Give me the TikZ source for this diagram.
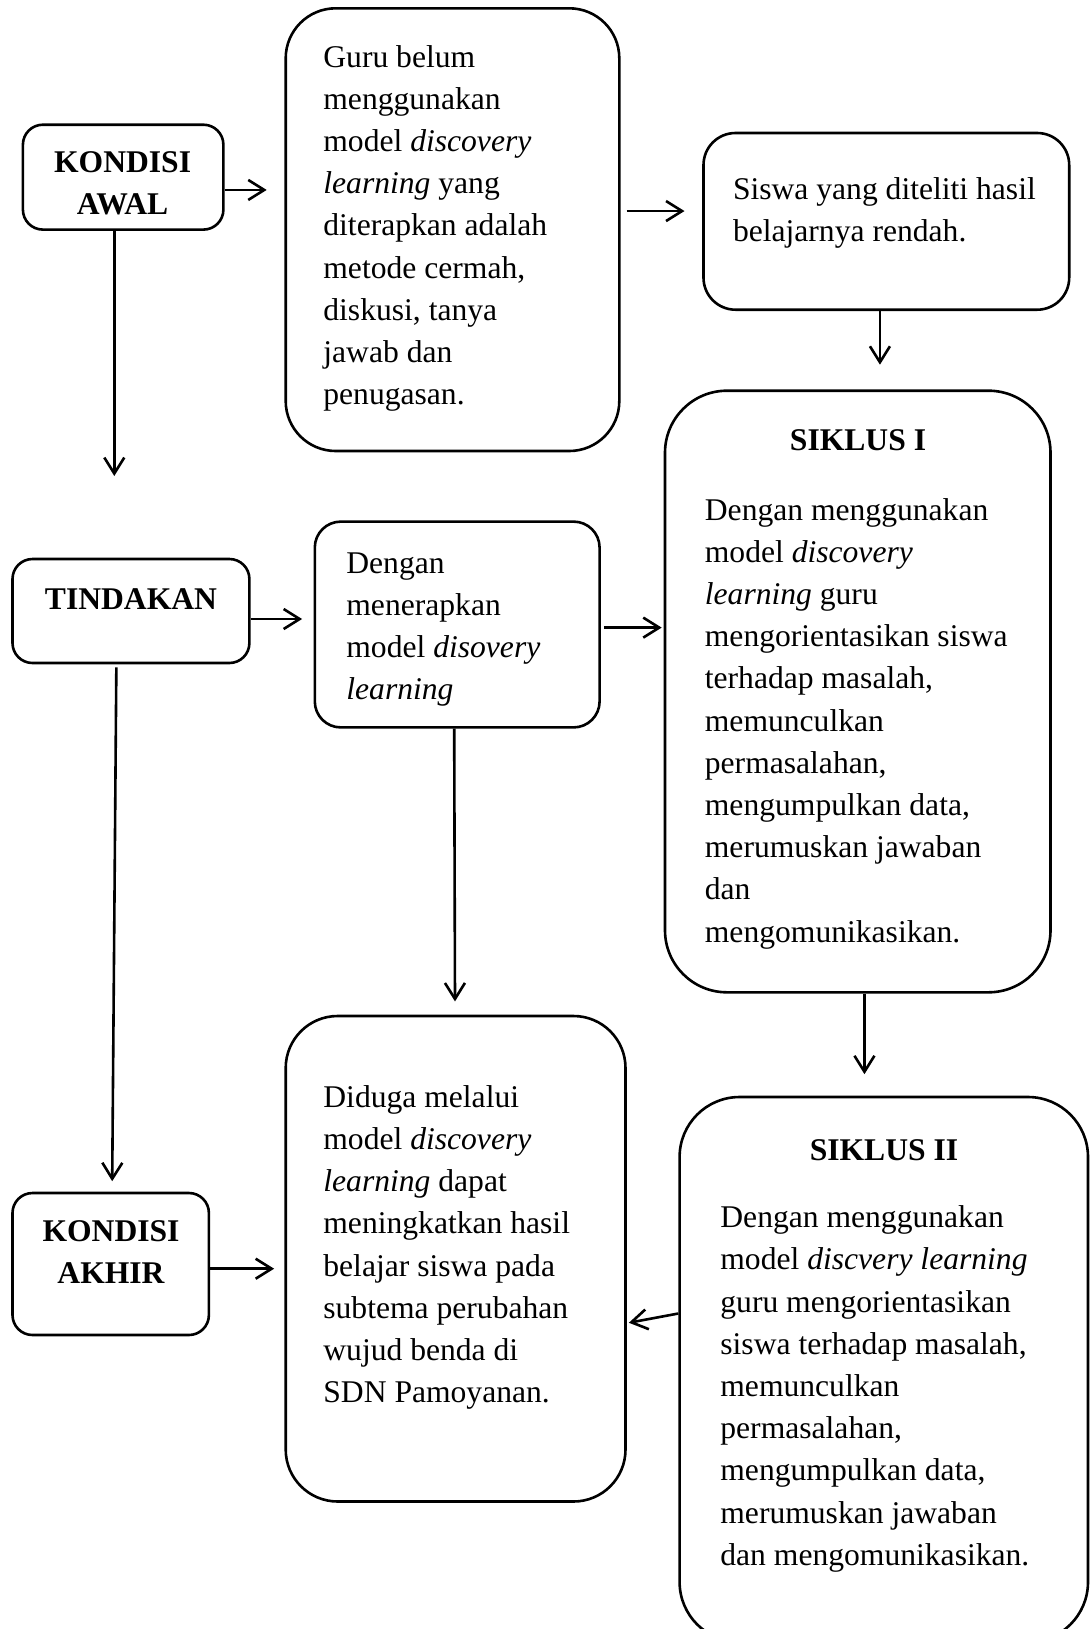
\documentclass[tikz,border=0pt]{standalone}
\usepackage{fontspec}
\setmainfont{Liberation Serif}
\usetikzlibrary{arrows.meta,calc,fit}
\begin{document}
\begin{tikzpicture}[x=0.5pt,y=-0.5pt,
  box/.style={draw, line width=1.3pt, inner sep=0pt, rounded corners=#1},
  box/.default=10pt,
  txt/.style={font=\fontsize{15.8pt}{21.1pt}\selectfont, align=left, inner sep=0pt, anchor=north west},
  ttl/.style={font=\fontsize{15.8pt}{21.1pt}\selectfont\bfseries, align=center, inner sep=0pt, anchor=north},
  arr/.style={draw, line width=1.3pt, -{Straight Barb[length=8pt,width=10pt]}}]
\useasboundingbox (0,0) rectangle (1090,1629);
% boxes
\node[box=10pt, fit={(22.9,124.7) (223.4,229.6)}] (kawal) {};
\node[box=25pt, fit={(285.7,8.3) (619.3,451)}] (guru) {};
\node[box=16pt, fit={(703.5,133) (1069.2,309.7)}] (siswa) {};
\node[box=31pt, fit={(665,390.7) (1050.5,992.3)}] (s1) {};
\node[box=10pt, fit={(12.5,559) (249.4,663)}] (tind) {};
\node[box=13pt, fit={(314.8,521.6) (599.6,727.4)}] (deng) {};
\node[box=26pt, fit={(285.7,1016) (625.5,1501.5)}] (diduga) {};
\node[box=10pt, fit={(12.5,1193) (208.9,1335)}] (kakhir) {};
\node[box=30pt, fit={(679.6,1097) (1088,1642)}] (s2) {};
% texts
\node[ttl] (kawal-t) at (122.6,142.1) {\strut KONDISI\\AWAL};
\node[ttl] (tind-t) at (131,579.5) {\strut TINDAKAN};
\node[ttl] (kakhir-t) at (111,1211.3) {\strut KONDISI\\AKHIR};
\node[txt] (guru-t) at (323,37.1) {\strut Guru belum\\menggunakan\\model \textit{discovery}\\\textit{learning} yang\\diterapkan adalah\\metode cermah,\\diskusi, tanya\\jawab dan\\penugasan.};
\node[txt] (siswa-t) at (732.6,169.1) {\strut Siswa yang diteliti hasil\\belajarnya rendah.};
\node[ttl] (s1-title) at (858,420.5) {\strut SIKLUS I};
\node[txt] (s1-t) at (704.5,490.2) {\strut Dengan menggunakan\\model \textit{discovery}\\\textit{learning} guru\\mengorientasikan siswa\\terhadap masalah,\\memunculkan\\permasalahan,\\mengumpulkan data,\\merumuskan jawaban\\dan\\mengomunikasikan.};
\node[txt] (deng-t) at (346,543.2) {\strut Dengan\\menerapkan\\model \textit{disovery}\\\textit{learning}};
\node[txt] (diduga-t) at (323,1077.3) {\strut Diduga melalui\\model \textit{discovery}\\\textit{learning} dapat\\meningkatkan hasil\\belajar siswa pada\\subtema perubahan\\wujud benda di\\SDN Pamoyanan.};
\node[ttl] (s2-title) at (884,1130.2) {\strut SIKLUS II};
\node[txt] (s2-t) at (720,1197.8) {\strut Dengan menggunakan\\model \textit{discvery learning}\\guru mengorientasikan\\siswa terhadap masalah,\\memunculkan\\permasalahan,\\mengumpulkan data,\\merumuskan jawaban\\dan mengomunikasikan.};
% connectors
\coordinate (dend) at (114.3,476);
\draw[arr] ($(kawal.east)+(0,12.8)$) -- ($(kawal.east -| guru.west)+(-17.7,12.8)$);
\draw[arr] ($(guru.east)+(6,-18.6)$) -- ($(guru.east -| siswa.west)+(-17.7,-18.6)$);
\draw[arr] ($(siswa.south)+(-6.4,0)$) -- ($(siswa.south |- s1.north)+(-6.4,-24.7)$);
\draw[arr] ($(kawal.south)+(-8.85,0)$) -- (dend);
\draw[arr] ($(tind.east)+(0,8)$) -- ($(tind.east -| deng.west)+(-11.4,8)$);
\draw[arr] ($(deng.east)+(3,3.1)$) -- ($(deng.east -| s1.west)+(-2,3.1)$);
\draw[arr] ($(deng.south)+(-3,0)$) -- ($(diduga.north)+(-0.6,-13.3)$);
\draw[arr] ($(tind.south)+(-14.6,3)$) -- ($(kakhir.north)+(1.5,-10.5)$);
\draw[arr] ($(s1.south)+(6.7,0)$) -- ($(s1.south |- s2.north)+(6.7,-21.5)$);
\draw[arr] ($(kakhir.east)+(0,4.7)$) -- ($(kakhir.east -| diduga.west)+(-10.3,4.7)$);
\draw[arr] ($(s2.west)+(0,-56)$) -- ($(diduga.east)+(2.1,64)$);
\end{tikzpicture}
\end{document}
